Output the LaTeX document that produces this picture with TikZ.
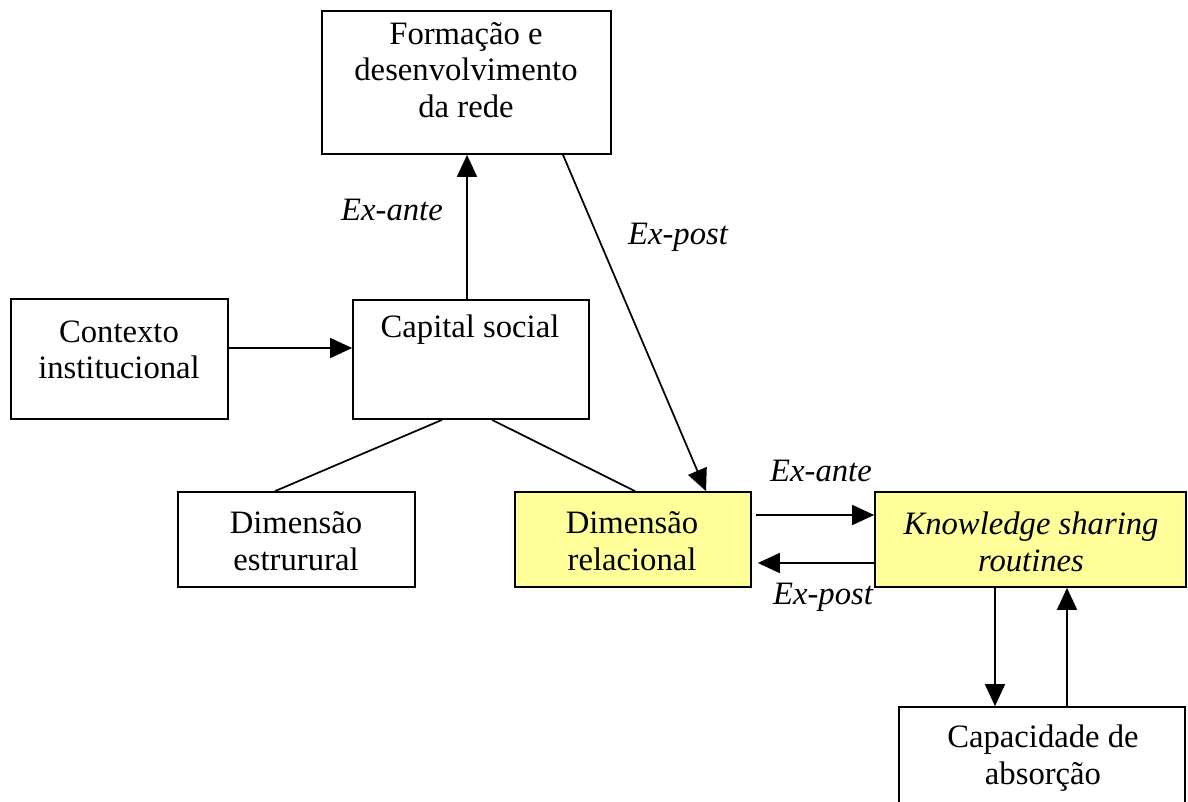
\documentclass[tikz,border=0pt]{standalone}
\usepackage{fontspec}
\setmainfont{Liberation Serif}
\usetikzlibrary{arrows.meta,fit}
\definecolor{boxyellow}{RGB}{255,255,153}
\begin{document}
\begin{tikzpicture}[x=0.75pt,y=-0.75pt,
  box/.style={draw, line width=1.3pt, inner sep=0pt, fill=white},
  ybox/.style={box, fill=boxyellow},
  txt/.style={font=\fontsize{24.5}{27.5}\selectfont, align=center, inner sep=0pt},
  lab/.style={font=\fontsize{24.5}{27.5}\selectfont\itshape, inner sep=0pt},
  arr/.style={line width=1.3pt, -{Triangle[length=16.5pt,width=15pt]}},
  ln/.style={line width=1.3pt}]
\clip (0,0) rectangle (1188,801);
\fill[white] (0,0) rectangle (1188,801);

% boxes
\node[box, fit={(322,11) (611,154)}] (form) {};
\node[box, fit={(11,299) (228,419)}] (ctx) {};
\node[box, fit={(353,300) (589,419)}] (cs) {};
\node[box, fit={(178,492) (415,587)}] (de) {};
\node[ybox, fit={(515,492) (751,587)}] (dr) {};
\node[ybox, fit={(875,492) (1186,587)}] (ksr) {};
\node[box, fit={(899,707) (1185,840)}] (cap) {};

% texts
\node[txt] (formt) at (466,70) {Formação e\\desenvolvimento\\da rede};
\node[txt] (ctxt) at (119,350) {Contexto\\institucional};
\node[txt] (cst) at (470,330) {Capital social};
\node[txt] (det) at (296,541) {Dimensão\\estrurural};
\node[txt] (drt) at (632,541) {Dimensão\\relacional};
\node[txt, font=\fontsize{24.5}{27.5}\selectfont\itshape] (ksrt) at (1031,542) {Knowledge sharing\\routines};
\node[txt] (capt) at (1043,758) {Capacidade de\\absorção};

% labels
\node[lab] (l1) at (392,209.5) {Ex-ante};
\node[lab] (l2) at (678,237.5) {Ex-post};
\node[lab] (l3) at (821,471) {Ex-ante};
\node[lab] (l4) at (823,597) {Ex-post};

% helper coordinates
\coordinate (xa) at (467,0);
\coordinate (xb) at (563,0);
\coordinate (xc) at (706,0);
\coordinate (xd) at (442,0);
\coordinate (xe) at (275,0);
\coordinate (xf) at (492,0);
\coordinate (xg) at (635,0);
\coordinate (xh) at (995,0);
\coordinate (xi) at (1067,0);
\coordinate (ya) at (0,348);
\coordinate (yb) at (0,515);
\coordinate (yc) at (0,563);

% connectors
\draw[arr] (cs.north -| xa) -- (form.south -| xa);
\draw[arr] (form.south -| xb) -- (dr.north -| xc);
\draw[arr] (ctx.east |- ya) -- (cs.west |- ya);
\draw[ln] (cs.south -| xd) -- (de.north -| xe);
\draw[ln] (cs.south -| xf) -- (dr.north -| xg);
\draw[arr, shorten <=3pt] (dr.east |- yb) -- (ksr.west |- yb);
\draw[arr, shorten >=4.5pt] (ksr.west |- yc) -- (dr.east |- yc);
\draw[arr] (ksr.south -| xh) -- (cap.north -| xh);
\draw[arr] (cap.north -| xi) -- (ksr.south -| xi);
\end{tikzpicture}
\end{document}
